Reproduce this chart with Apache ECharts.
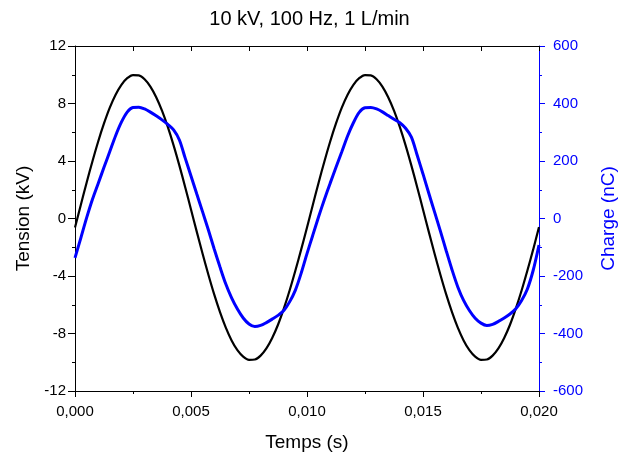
<!DOCTYPE html>
<html>
<head>
<meta charset="utf-8">
<script src="https://cdn.jsdelivr.net/npm/echarts@6/dist/echarts.min.js"></script>
<style>html,body{margin:0;padding:0;background:#fff;}#c{width:619px;height:455px;}</style>
</head>
<body>
<div id="c"></div>
<script>
var titleText = '10 kV, 100 Hz, 1 L/min';
var time = [0.00000,0.00025,0.00050,0.00075,0.00100,0.00125,0.00150,0.00175,0.00200,0.00225,
            0.00250,0.00275,0.00300,0.00325,0.00350,0.00375,0.00400,0.00425,0.00450,0.00475,
            0.00500,0.00525,0.00550,0.00575,0.00600,0.00625,0.00650,0.00675,0.00700,0.00725,
            0.00750,0.00775,0.00800,0.00825,0.00850,0.00875,0.00900,0.00925,0.00950,0.00975,
            0.01000,0.01025,0.01050,0.01075,0.01100,0.01125,0.01150,0.01175,0.01200,0.01225,
            0.01250,0.01275,0.01300,0.01325,0.01350,0.01375,0.01400,0.01425,0.01450,0.01475,
            0.01500,0.01525,0.01550,0.01575,0.01600,0.01625,0.01650,0.01675,0.01700,0.01725,
            0.01750,0.01775,0.01800,0.01825,0.01850,0.01875,0.01900,0.01925,0.01950,0.01975,0.02000];
var tension = [-0.63,0.94,2.49,3.97,5.36,6.61,7.71,8.61,9.30,9.76,
               9.98,9.96,9.69,9.18,8.44,7.50,6.37,5.09,3.68,2.18,
               0.63,-0.93,-2.45,-3.91,-5.28,-6.51,-7.59,-8.48,-9.16,-9.61,
               -9.83,-9.81,-9.54,-9.04,-8.31,-7.39,-6.27,-5.01,-3.62,-2.15,
               -0.62,0.94,2.49,3.97,5.36,6.61,7.71,8.61,9.30,9.76,
               9.98,9.96,9.69,9.18,8.44,7.50,6.37,5.09,3.68,2.18,
               0.63,-0.93,-2.45,-3.91,-5.28,-6.51,-7.59,-8.48,-9.16,-9.61,
               -9.83,-9.81,-9.54,-9.04,-8.31,-7.39,-6.27,-5.01,-3.62,-2.15,-0.60];
var charge = [-137,-68,2,66,122,178,233,288,335,370,
              386,387,381,370,357,343,327,308,273,210,
              148,85,23,-40,-106,-169,-228,-276,-315,-346,
              -367,-376,-372,-362,-350,-337,-320,-290,-249,-190,
              -122,-58,6,66,123,178,232,287,333,369,
              385,386,381,371,358,345,333,314,283,220,
              155,88,22,-44,-112,-178,-238,-285,-320,-347,
              -364,-372,-368,-358,-346,-332,-314,-285,-245,-180,-92];
var xTicks = {min:0, max:0.02, interval:0.005};
var yLeftTicks = {min:-12, max:12, interval:4};
var yRightTicks = {min:-600, max:600, interval:200};

function pairs(xs, ys){ return xs.map(function(x,i){return [x, ys[i]];}); }

var chart = echarts.init(document.getElementById('c'), null, {renderer:'canvas'});
var font = 'Arial, "Liberation Sans", sans-serif';
chart.setOption({
  animation:false,
  backgroundColor:'#fff',
  title:{text:titleText, left:'center', top:4, textStyle:{fontFamily:font, fontSize:20, fontWeight:'normal', color:'#000'}},
  grid:{left:75, right:80, top:46, bottom:64, containLabel:false, outerBoundsMode:'none'},
  xAxis:[{
    type:'value', min:xTicks.min, max:xTicks.max, interval:xTicks.interval, position:'bottom',
    name:'Temps (s)', nameLocation:'middle', nameGap:42,
    nameTextStyle:{fontFamily:font, fontSize:19, color:'#000'},
    axisLine:{onZero:false, lineStyle:{color:'#000', width:1}},
    axisTick:{inside:false, length:6, lineStyle:{color:'#000'}},
    minorTick:{show:true, splitNumber:2, length:3, lineStyle:{color:'#000'}},
    splitLine:{show:false},
    axisLabel:{fontFamily:font, fontSize:15, color:'#000', margin:13, formatter:function(v){return v.toFixed(3).replace('.',',');}}
  },{
    type:'value', min:xTicks.min, max:xTicks.max, interval:xTicks.interval, position:'top',
    axisLine:{show:true, onZero:false, lineStyle:{color:'#000', width:1}},
    axisTick:{inside:true, length:5, lineStyle:{color:'#000'}},
    minorTick:{show:true, splitNumber:2, length:5, lineStyle:{color:'#000'}},
    splitLine:{show:false}, axisLabel:{show:false}
  }],
  yAxis:[{
    type:'value', min:yLeftTicks.min, max:yLeftTicks.max, interval:yLeftTicks.interval, position:'left',
    name:'Tension (kV)', nameLocation:'middle', nameGap:32, nameRotate:90,
    nameTextStyle:{fontFamily:font, fontSize:19, color:'#000'},
    axisLine:{show:true, onZero:false, lineStyle:{color:'#000', width:1}},
    axisTick:{inside:false, length:7, lineStyle:{color:'#000'}},
    minorTick:{show:true, splitNumber:2, length:3, lineStyle:{color:'#000'}},
    splitLine:{show:false},
    axisLabel:{fontFamily:font, fontSize:15, color:'#000', margin:9}
  },{
    type:'value', min:yRightTicks.min, max:yRightTicks.max, interval:yRightTicks.interval, position:'right',
    name:'Charge (nC)', nameLocation:'middle', nameGap:60, nameRotate:90,
    nameTextStyle:{fontFamily:font, fontSize:19, color:'#0000ff'},
    axisLine:{show:true, onZero:false, lineStyle:{color:'#0000ff', width:1}},
    axisTick:{inside:false, length:6, lineStyle:{color:'#0000ff'}},
    minorTick:{show:true, splitNumber:2, length:3, lineStyle:{color:'#0000ff'}},
    splitLine:{show:false},
    axisLabel:{fontFamily:font, fontSize:15, color:'#0000ff', margin:14}
  }],
  series:[{
    type:'line', name:'Tension', xAxisIndex:0, yAxisIndex:0, data:pairs(time, tension),
    showSymbol:false, smooth:0.3, lineStyle:{color:'#000', width:2.2}, z:2
  },{
    type:'line', name:'Charge', xAxisIndex:0, yAxisIndex:1, data:pairs(time, charge),
    showSymbol:false, smooth:0.3, lineStyle:{color:'#0000ff', width:3}, z:3
  }]
});
</script>
</body>
</html>
